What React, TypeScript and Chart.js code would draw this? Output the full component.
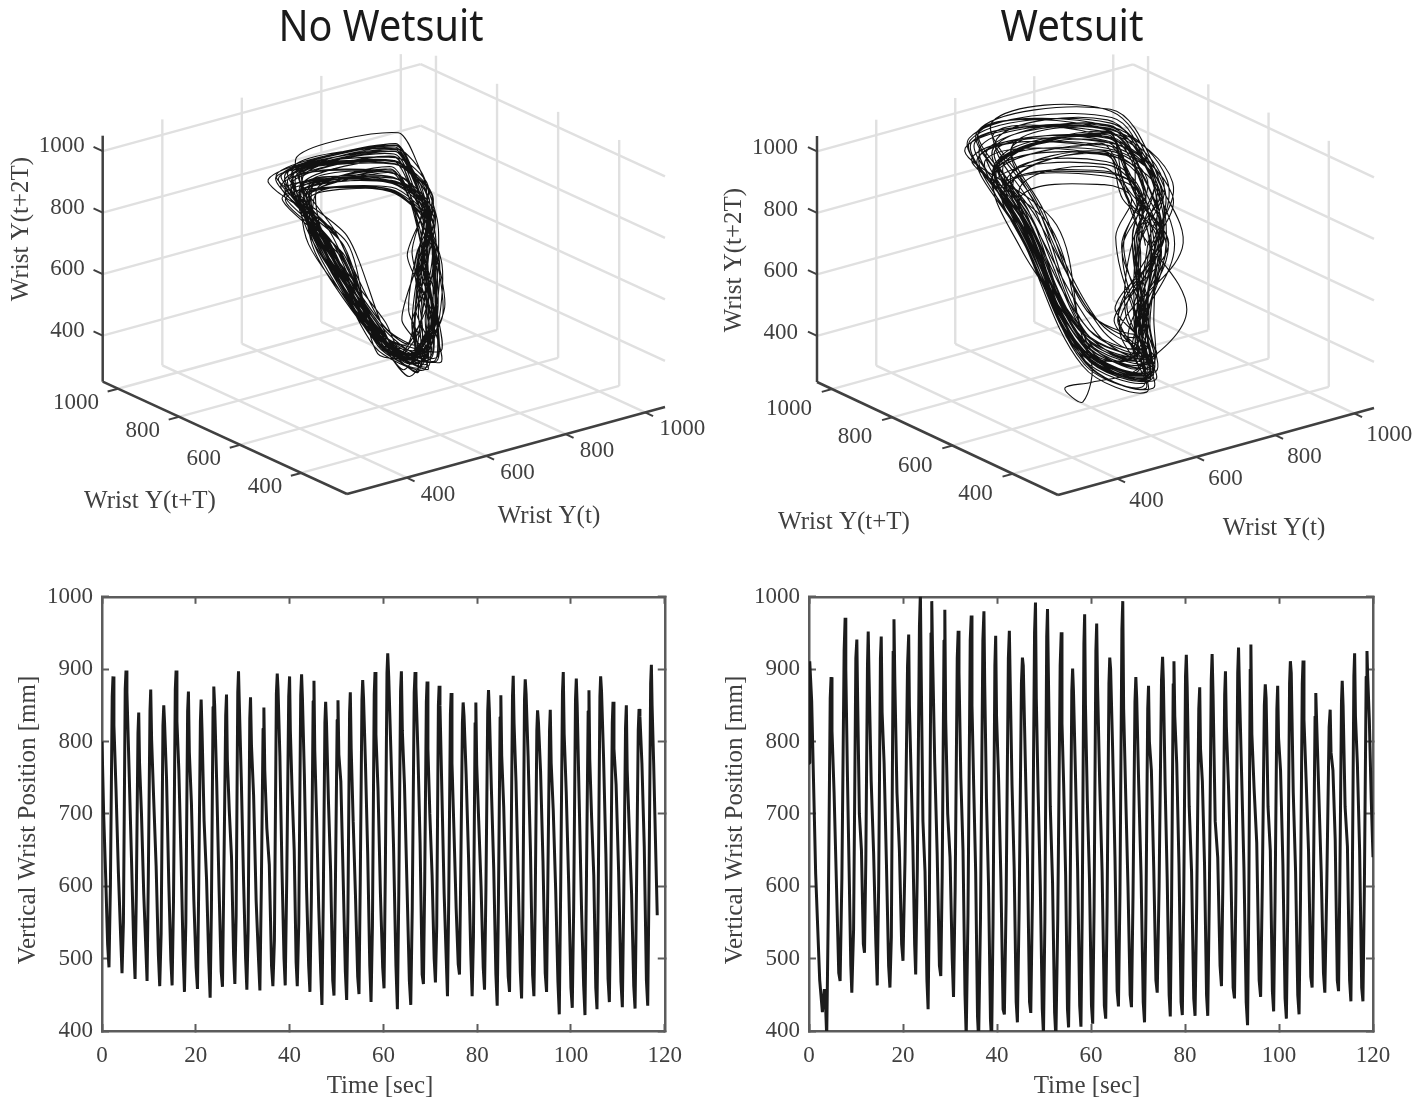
import React, { useEffect, useRef } from "react";
import { Chart, registerables } from "chart.js";

Chart.register(...registerables);

// ---------- data ----------
const axisTicks3d = [400, 600, 800, 1000];
const axisRange3d = [250, 1050];
const timeTicksMax = 120;

// rows: trough, rise, rise, peak, fall, fall, fall, fall
const noWetsuitStartTimes = [0, 0.35, 0.8, 1.2];
const noWetsuitStartValues = [800, 700, 610, 520];
const noWetsuitTroughTimes = [1.49, 4.27, 7.05, 9.61, 12.31, 14.95, 17.58, 20.36, 23.06, 25.69, 28.33, 30.89, 33.67, 36.44, 39.07, 41.64, 44.34, 46.9, 49.47, 52.17, 54.8, 57.37, 60.14, 62.99, 65.84, 68.54, 71.1, 73.67, 76.23, 78.93, 81.57, 84.27, 86.9, 89.47, 92.1, 94.8, 97.51, 100.28, 102.99, 105.55, 108.19, 110.96, 113.67, 116.37, 118.62];
const noWetsuitPeakTimes = [2.35, 5.12, 7.83, 10.39, 13.17, 15.8, 18.43, 21.14, 23.84, 26.55, 29.11, 31.67, 34.52, 37.37, 40.0, 42.56, 45.2, 47.69, 50.32, 52.95, 55.59, 58.22, 60.93, 63.84, 66.76, 69.32, 71.89, 74.45, 77.01, 79.72, 82.42, 85.05, 87.69, 90.25, 92.88, 95.59, 98.36, 101.14, 103.84, 106.33, 108.97, 111.81, 114.52, 117.15];
const noWetsuitRows = [
  [488, 600, 862, 890, 822, 735, 618, 530],
  [480, 550, 872, 898, 868, 765, 640, 520],
  [472, 590, 812, 840, 770, 700, 590, 515],
  [469, 615, 842, 872, 802, 720, 628, 505],
  [462, 535, 822, 850, 825, 750, 605, 498],
  [463, 580, 872, 898, 828, 760, 636, 505],
  [454, 550, 842, 869, 785, 715, 580, 488],
  [458, 605, 828, 858, 815, 690, 610, 495],
  [446, 570, 848, 876, 850, 745, 600, 482],
  [461, 620, 836, 865, 775, 705, 640, 505],
  [465, 560, 868, 897, 850, 750, 610, 500],
  [457, 540, 832, 861, 795, 725, 580, 500],
  [456, 595, 818, 847, 760, 680, 630, 490],
  [462, 525, 866, 894, 872, 780, 620, 500],
  [463, 610, 862, 890, 815, 730, 650, 495],
  [462, 550, 864, 893, 860, 755, 595, 490],
  [454, 580, 856, 884, 788, 695, 570, 480],
  [436, 575, 826, 855, 826, 720, 620, 470],
  [449, 600, 830, 857, 782, 745, 610, 482],
  [443, 565, 840, 868, 790, 690, 585, 475],
  [451, 610, 858, 885, 860, 770, 645, 490],
  [440, 545, 866, 896, 810, 735, 590, 488],
  [459, 620, 895, 922, 890, 785, 655, 490],
  [430, 590, 870, 897, 815, 740, 600, 470],
  [436, 570, 868, 896, 876, 790, 660, 478],
  [465, 605, 855, 883, 790, 700, 615, 500],
  [467, 545, 850, 877, 850, 730, 590, 500],
  [448, 585, 838, 867, 770, 680, 570, 492],
  [478, 620, 826, 854, 835, 755, 640, 505],
  [448, 530, 826, 854, 768, 690, 600, 488],
  [457, 595, 842, 871, 842, 735, 625, 478],
  [435, 585, 834, 864, 780, 710, 580, 475],
  [454, 605, 862, 891, 825, 745, 610, 482],
  [445, 560, 858, 886, 866, 780, 650, 478],
  [448, 575, 815, 843, 826, 760, 635, 480],
  [454, 610, 816, 844, 770, 705, 595, 468],
  [423, 595, 868, 896, 810, 730, 605, 460],
  [432, 570, 858, 887, 850, 720, 570, 462],
  [422, 600, 842, 871, 775, 695, 615, 460],
  [430, 595, 862, 890, 870, 780, 645, 472],
  [440, 575, 826, 855, 790, 740, 620, 468],
  [433, 585, 820, 850, 760, 680, 590, 462],
  [431, 590, 816, 845, 835, 770, 655, 470],
  [435, 600, 880, 906, 850, 770, 660, 560],
];

const wetsuitStartTimes = [0, 0.1, 0.21, 0.57, 1.42, 2.28, 2.85, 3.27, 3.5];
const wetsuitStartValues = [770, 880, 911, 856, 617, 470, 426, 458, 440];
const wetsuitTroughTimes = [3.77, 6.62, 9.11, 11.81, 14.52, 17.22, 20.0, 22.7, 25.34, 28.04, 30.75, 33.45, 36.09, 38.86, 41.57, 44.34, 47.19, 49.89, 52.53, 55.23, 57.86, 60.36, 63.13, 65.84, 68.61, 71.39, 74.09, 76.87, 79.43, 82.14, 84.84, 87.76, 90.53, 93.31, 96.09, 98.86, 101.57, 104.27, 107.05, 109.75, 112.67, 115.3, 117.86, 120.23];
const wetsuitPeakTimes = [4.7, 7.69, 10.18, 12.6, 15.37, 18.08, 21.21, 23.7, 26.12, 28.9, 31.74, 34.52, 37.22, 39.72, 42.63, 45.41, 48.19, 50.75, 53.67, 56.09, 58.65, 61.21, 63.99, 66.76, 69.54, 72.24, 75.23, 77.65, 80.28, 83.13, 85.77, 88.61, 91.39, 94.02, 97.08, 99.72, 102.42, 105.12, 107.83, 110.89, 113.45, 116.09, 118.72];
const wetsuitRows = [
  [392, 560, 860, 889, 815, 730, 600, 480],
  [469, 610, 925, 971, 900, 760, 620, 490],
  [453, 540, 915, 941, 860, 700, 650, 520],
  [508, 635, 905, 952, 885, 745, 645, 520],
  [463, 600, 915, 945, 840, 770, 630, 490],
  [460, 530, 925, 969, 880, 730, 650, 520],
  [497, 635, 905, 948, 850, 760, 655, 520],
  [478, 625, 960, 1005, 900, 690, 620, 470],
  [430, 580, 950, 994, 915, 770, 645, 490],
  [476, 615, 940, 982, 830, 700, 640, 500],
  [447, 595, 915, 953, 895, 750, 650, 450],
  [392, 560, 940, 974, 850, 740, 620, 420],
  [388, 555, 940, 980, 880, 720, 600, 415],
  [385, 550, 905, 946, 835, 750, 610, 430],
  [423, 580, 915, 953, 885, 740, 625, 440],
  [412, 570, 880, 916, 905, 780, 640, 440],
  [425, 585, 950, 992, 860, 730, 600, 430],
  [395, 555, 945, 983, 895, 710, 605, 425],
  [390, 555, 905, 951, 825, 740, 615, 430],
  [405, 560, 870, 901, 870, 760, 625, 435],
  [406, 565, 935, 976, 850, 720, 610, 435],
  [410, 570, 925, 963, 875, 745, 620, 435],
  [417, 575, 880, 916, 900, 790, 640, 455],
  [434, 590, 955, 994, 845, 730, 600, 450],
  [433, 585, 855, 889, 860, 740, 615, 440],
  [412, 565, 845, 877, 800, 760, 625, 470],
  [453, 600, 885, 917, 885, 740, 610, 450],
  [420, 575, 880, 911, 835, 770, 630, 440],
  [422, 580, 890, 920, 875, 710, 620, 445],
  [421, 575, 845, 875, 790, 745, 630, 450],
  [421, 580, 885, 921, 865, 690, 640, 490],
  [462, 605, 865, 897, 820, 740, 620, 460],
  [445, 595, 895, 930, 875, 760, 625, 440],
  [408, 565, 900, 934, 810, 735, 660, 470],
  [447, 595, 850, 879, 860, 710, 650, 455],
  [427, 580, 845, 877, 805, 760, 630, 445],
  [417, 570, 880, 911, 895, 730, 620, 450],
  [423, 580, 880, 912, 830, 750, 650, 475],
  [460, 605, 835, 867, 825, 730, 620, 480],
  [453, 595, 820, 844, 785, 760, 665, 470],
  [455, 605, 855, 884, 850, 710, 655, 470],
  [441, 590, 890, 922, 835, 770, 650, 460],
  [441, 595, 890, 925, 890, 830, 720, 640],
];

const yTimeTicks = { min: 400, max: 1000, stepSize: 100 };

// ---------- series assembly: trough/peak times place the typed samples ----------
const riseFractions = [0.35, 0.8];
const fallFractions = [0.1, 0.33, 0.6, 0.85];

function assemble(startT: number[], startV: number[], troughT: number[], peakT: number[], rows: number[][]) {
  const pts: { x: number; y: number }[] = startT.map((t, i) => ({ x: t, y: startV[i] }));
  rows.forEach((row, i) => {
    const tL = troughT[i];
    const tP = peakT[i];
    const tN = troughT[i + 1];
    pts.push({ x: tL, y: row[0] });
    riseFractions.forEach((f, j) => pts.push({ x: tL + f * (tP - tL), y: row[1 + j] }));
    pts.push({ x: tP, y: row[3] });
    fallFractions.forEach((f, j) => pts.push({ x: tP + f * (tN - tP), y: row[4 + j] }));
  });
  return pts;
}

const SERIF = '"Liberation Serif", "Times New Roman", serif';
const TEXT = "#404040";
const GRID = "#e0e0e0";
const INK = "#1c1c1c";

type Item = { text: string; x: number; y: number; size: number; align: CanvasTextAlign; rotate?: boolean; family?: string; color?: string; maxWidth?: number };

// items are placed in canvas pixels
const panelText = {
  id: "panelText",
  afterDraw(chart: any, _a: any, opts: any) {
    const { ctx } = chart;
    (opts.items as Item[]).forEach((it) => {
      ctx.save();
      ctx.font = `${it.size}px ${it.family || SERIF}`;
      ctx.fillStyle = it.color || TEXT;
      ctx.textAlign = it.align;
      ctx.textBaseline = "middle";
      ctx.translate(it.x, it.y);
      if (it.rotate) ctx.rotate(-Math.PI / 2);
      if (it.maxWidth) ctx.fillText(it.text, 0, 0, it.maxWidth);
      else ctx.fillText(it.text, 0, 0);
      ctx.restore();
    });
  },
};

type Panel3d = {
  w: number; h: number;
  front: [number, number];
  xVec: [number, number];
  yVec: [number, number];
  zLen: number;
  xOff: [number, number];
  yOff: [number, number];
  zOff: [number, number];
  tension: number;
  title: Item;
  labels: Item[];
};

function config3d(p: Panel3d, series: { x: number; y: number }[]) {
  const [lo, hi] = axisRange3d;
  const span = hi - lo;
  const proj = (X: number, Y: number, Z: number) => ({
    x: p.front[0] + ((X - lo) / span) * p.xVec[0] + ((Y - lo) / span) * p.yVec[0],
    y: p.front[1] + ((X - lo) / span) * p.xVec[1] + ((Y - lo) / span) * p.yVec[1] - ((Z - lo) / span) * p.zLen,
  });
  const seg = (a: number[], b: number[], color: string, width: number, order: number) => ({
    data: [proj(a[0], a[1], a[2]), proj(b[0], b[1], b[2])],
    showLine: true, borderColor: color, borderWidth: width, pointRadius: 0, order, clip: false, tension: 0,
  });
  const ds: any[] = [];
  // delay-embedded curve
  const curve = [];
  for (let i = 0; i + 2 < series.length; i++) curve.push(proj(series[i].y, series[i + 1].y, series[i + 2].y));
  ds.push({ data: curve, showLine: true, borderColor: "#111", borderWidth: 1.1, pointRadius: 0, tension: p.tension, order: 0, clip: false });
  axisTicks3d.forEach((t) => {
    ds.push(seg([t, lo, lo], [t, hi, lo], GRID, 2.4, 5));
    ds.push(seg([lo, t, lo], [hi, t, lo], GRID, 2.4, 5));
    ds.push(seg([t, hi, lo], [t, hi, hi], GRID, 2.4, 5));
    ds.push(seg([hi, t, lo], [hi, t, hi], GRID, 2.4, 5));
    ds.push(seg([lo, hi, t], [hi, hi, t], GRID, 2.4, 5));
    ds.push(seg([hi, hi, t], [hi, lo, t], GRID, 2.4, 5));
    ds.push(seg([t, lo, lo], [t, lo - 26, lo], TEXT, 2, 2));
    ds.push(seg([lo, t, lo], [lo - 26, t, lo], TEXT, 2, 2));
    ds.push(seg([lo, hi, t], [lo, hi + 30, t], TEXT, 2, 2));
  });
  ds.push(seg([lo, lo, lo], [hi, lo, lo], TEXT, 2.5, 1));
  ds.push(seg([lo, lo, lo], [lo, hi, lo], TEXT, 2.5, 1));
  ds.push(seg([lo, hi, lo], [lo, hi, hi], TEXT, 2.5, 1));

  const items: Item[] = [p.title, ...p.labels];
  axisTicks3d.forEach((t) => {
    const a = proj(t, lo, lo);
    const b = proj(lo, t, lo);
    const c = proj(lo, hi, t);
    items.push({ text: String(t), x: a.x + p.xOff[0], y: a.y + p.xOff[1], size: 23, align: "left" });
    items.push({ text: String(t), x: b.x + p.yOff[0], y: b.y + p.yOff[1], size: 23, align: "right" });
    items.push({ text: String(t), x: c.x + p.zOff[0], y: c.y + p.zOff[1], size: 23, align: "right" });
  });

  return {
    type: "scatter" as const,
    data: { datasets: ds },
    plugins: [panelText],
    options: {
      animation: false as const,
      responsive: false,
      layout: { padding: 0 },
      plugins: { legend: { display: false }, tooltip: { enabled: false }, panelText: { items } },
      scales: {
        x: { type: "linear" as const, display: false, min: 0, max: p.w },
        y: { type: "linear" as const, display: false, min: 0, max: p.h, reverse: true },
      },
    },
  };
}

function configTime(series: { x: number; y: number }[], plotLeft: number, plotRight: number, w: number, items: Item[]) {
  const plain = (v: any) => String(v);
  const tickLook = { color: TEXT, font: { family: SERIF, size: 23 }, callback: plain };
  const edge = { color: "#5c5c5c", width: 2.5 };
  const grid = { drawOnChartArea: false, tickLength: -7, tickColor: "#5c5c5c", tickWidth: 2 };
  return {
    type: "line" as const,
    data: {
      datasets: [{
        data: series, borderColor: INK, borderWidth: 3, pointRadius: 0,
        tension: 0, borderJoinStyle: "bevel" as const,
      }],
    },
    plugins: [panelText],
    options: {
      animation: false as const,
      responsive: false,
      layout: { padding: { top: 4, right: w - plotRight, left: 0, bottom: 0 } },
      plugins: { legend: { display: false }, tooltip: { enabled: false }, panelText: { items } },
      scales: {
        x: {
          type: "linear" as const, position: "bottom" as const, min: 0, max: timeTicksMax,
          border: edge, grid,
          ticks: { ...tickLook, stepSize: 20, padding: 18, maxRotation: 0, autoSkip: false },
          afterFit: (s: any) => { s.height = 68; },
        },
        y: {
          type: "linear" as const, position: "left" as const, min: yTimeTicks.min, max: yTimeTicks.max,
          border: edge, grid,
          ticks: { ...tickLook, stepSize: yTimeTicks.stepSize, padding: 16, autoSkip: false },
          afterFit: (s: any) => { s.width = plotLeft; },
        },
        xTop: {
          type: "linear" as const, position: "top" as const, min: 0, max: timeTicksMax,
          border: edge, grid,
          ticks: { display: false, stepSize: 20 },
          afterFit: (s: any) => { s.height = 0; },
        },
        yRight: {
          type: "linear" as const, position: "right" as const, min: yTimeTicks.min, max: yTimeTicks.max,
          border: edge, grid,
          ticks: { display: false, stepSize: yTimeTicks.stepSize },
          afterFit: (s: any) => { s.width = 0; },
        },
      },
    },
  };
}

const TITLE_FONT = '"Noto Sans", "Open Sans", sans-serif';
const LABEL = 25;

const leftPanel: Panel3d = {
  w: 714, h: 560,
  front: [347, 494], xVec: [318, -87], yVec: [-244.3, -112.3], zLen: 246,
  xOff: [14, 17], yOff: [-19, 14], zOff: [-18, -5],
  tension: 0.25,
  title: { text: "No Wetsuit", x: 381, y: 28, size: 44, align: "center", family: TITLE_FONT, color: "#1a1a1a", maxWidth: 205 },
  labels: [
    { text: "Wrist Y(t+T)", x: 150, y: 501, size: LABEL, align: "center" },
    { text: "Wrist Y(t)", x: 549, y: 516, size: LABEL, align: "center" },
    { text: "Wrist Y(t+2T)", x: 21, y: 229, size: LABEL, align: "center", rotate: true },
  ],
};

const rightPanel: Panel3d = {
  w: 713, h: 560,
  front: [344, 495], xVec: [316, -87], yVec: [-241, -113], zLen: 246,
  xOff: [12, 22], yOff: [-20, 20], zOff: [-19, -3],
  tension: 0.35,
  title: { text: "Wetsuit", x: 358, y: 28, size: 44, align: "center", family: TITLE_FONT, color: "#1a1a1a", maxWidth: 143 },
  labels: [
    { text: "Wrist Y(t+T)", x: 130, y: 522, size: LABEL, align: "center" },
    { text: "Wrist Y(t)", x: 560, y: 528, size: LABEL, align: "center" },
    { text: "Wrist Y(t+2T)", x: 20, y: 260, size: LABEL, align: "center", rotate: true },
  ],
};

const timeLabelsLeft: Item[] = [
  { text: "Time [sec]", x: 380, y: 519, size: LABEL, align: "center" },
  { text: "Vertical Wrist Position [mm]", x: 28, y: 253, size: LABEL, align: "center", rotate: true },
];
const timeLabelsRight: Item[] = [
  { text: "Time [sec]", x: 373, y: 519, size: LABEL, align: "center" },
  { text: "Vertical Wrist Position [mm]", x: 21, y: 253, size: LABEL, align: "center", rotate: true },
];

export default function App() {
  const a = useRef<HTMLCanvasElement>(null);
  const b = useRef<HTMLCanvasElement>(null);
  const c = useRef<HTMLCanvasElement>(null);
  const d = useRef<HTMLCanvasElement>(null);

  useEffect(() => {
    const dry = assemble(noWetsuitStartTimes, noWetsuitStartValues, noWetsuitTroughTimes, noWetsuitPeakTimes, noWetsuitRows);
    const wet = assemble(wetsuitStartTimes, wetsuitStartValues, wetsuitTroughTimes, wetsuitPeakTimes, wetsuitRows);
    const charts = [
      new Chart(a.current!, config3d(leftPanel, dry) as any),
      new Chart(b.current!, config3d(rightPanel, wet) as any),
      new Chart(c.current!, configTime(dry, 102, 665, 700, timeLabelsLeft) as any),
      new Chart(d.current!, configTime(wet, 95, 659, 700, timeLabelsRight) as any),
    ];
    return () => charts.forEach((ch) => ch.destroy());
  }, []);

  const place = (left: number, top: number): React.CSSProperties => ({ position: "absolute", left, top, display: "block" });
  return (
    <div style={{ position: "absolute", left: 0, top: 0, width: 1427, height: 1099, overflow: "hidden", background: "#fff" }}>
      <canvas ref={a} width={714} height={560} style={place(0, 0)} />
      <canvas ref={b} width={713} height={560} style={place(714, 0)} />
      <canvas ref={c} width={700} height={532} style={place(0, 567)} />
      <canvas ref={d} width={700} height={532} style={place(714, 567)} />
    </div>
  );
}
